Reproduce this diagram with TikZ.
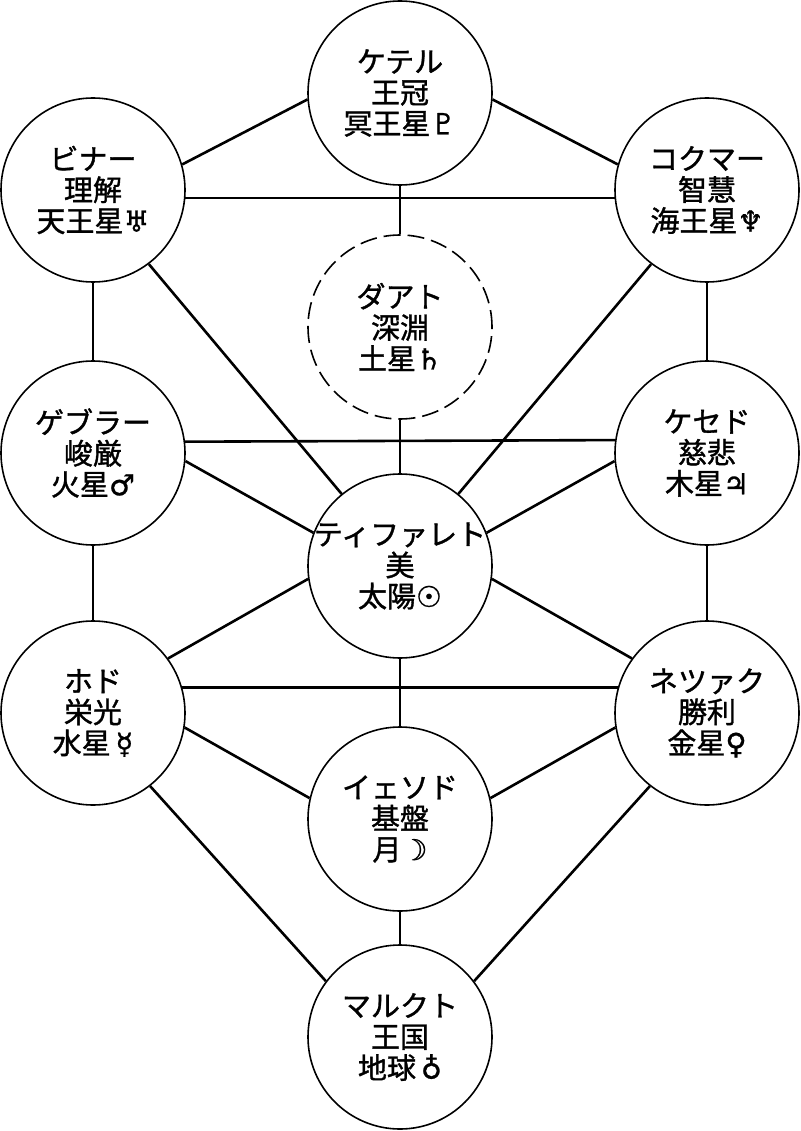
\documentclass[tikz,border=0pt]{standalone}
\usepackage{fontspec}
\setmainfont{Noto Sans CJK JP}[UprightFeatures={FakeBold=1.2}]
\newfontfamily\astrofont{DejaVu Sans}[UprightFeatures={FakeBold=0.8}]
\newcommand{\astro}[1]{{\astrofont #1}}

\begin{document}
\begin{tikzpicture}[x=1pt,y=-1pt,
        sefira/.style={draw, circle, line width=1.6pt, minimum size=184pt, inner sep=0pt},
        hidden/.style={sefira, dash pattern=on 17pt off 7pt},
        caption/.style={align=center, inner sep=0pt, font=\fontsize{29}{31}\selectfont},
        channel/.style={line width=2.6pt}]
                \useasboundingbox (0,0) rectangle (800,1131);
                \node[sefira] (keter) at (400,93) {};
                \node[sefira] (binah) at (93,190) {};
                \node[sefira] (chokmah) at (707,190) {};
                \node[hidden] (daat) at (400,327) {};
                \node[sefira] (gevurah) at (93,453) {};
                \node[sefira] (chesed) at (707,453) {};
                \node[sefira] (tiferet) at (400,566) {};
                \node[sefira] (hod) at (93,713) {};
                \node[sefira] (netzach) at (707,713) {};
                \node[sefira] (yesod) at (400,819) {};
                \node[sefira] (malkuth) at (400,1037) {};
                \node[caption] (keter-t) at (keter) {ケテル\\王冠\\冥王星\astro{♇}};
                \node[caption] (binah-t) at (binah) {ビナー\\理解\\天王星\astro{♅}};
                \node[caption] (chokmah-t) at (chokmah) {コクマー\\智慧\\海王星\astro{♆}};
                \node[caption] (daat-t) at (daat) {ダアト\\深淵\\土星\astro{♄}};
                \node[caption] (gevurah-t) at (gevurah) {ゲブラー\\峻厳\\火星\astro{♂}};
                \node[caption] (chesed-t) at (chesed) {ケセド\\慈悲\\木星\astro{♃}};
                \node[caption] (tiferet-t) at (tiferet) {ティファレト\\美\\太陽\astro{☉}};
                \node[caption] (hod-t) at (hod) {ホド\\栄光\\水星\,\astro{☿}};
                \node[caption] (netzach-t) at (netzach) {ネツァク\\勝利\\金星\astro{♀}};
                \node[caption] (yesod-t) at (yesod) {イェソド\\基盤\\月\astro{☽}};
                \node[caption] (malkuth-t) at (malkuth) {マルクト\\王国\\地球\,\astro{♁}};
                \draw[channel] (binah.16) -- (keter.184);
                \draw[channel] (keter.-4) -- (chokmah.164);
                \draw[channel] (binah.-5) -- (chokmah.185);
                \draw[channel] (keter.south) -- (daat.north);
                \draw[channel] (daat.south) -- (tiferet.north);
                \draw[channel] (binah.south) -- (gevurah.north);
                \draw[channel] (chokmah.south) -- (chesed.north);
                \draw[channel] (binah.-53) -- (tiferet.129);
                \draw[channel] (chokmah.233) -- (tiferet.51);
                \draw[channel] (gevurah.7.5) -- (chesed.172.5);
                \draw[channel] (gevurah.-5) -- (tiferet.159);
                \draw[channel] (chesed.185) -- (tiferet.21);
                \draw[channel] (gevurah.south) -- (hod.north);
                \draw[channel] (chesed.south) -- (netzach.north);
                \draw[channel] (hod.36) -- (tiferet.188);
                \draw[channel] (netzach.144) -- (tiferet.-8);
                \draw[channel] (tiferet.south) -- (yesod.north);
                \draw[channel] (hod.16) -- (netzach.164);
                \draw[channel] (hod.-9) -- (yesod.167);
                \draw[channel] (netzach.189) -- (yesod.13);
                \draw[channel] (hod.-52) -- (malkuth.143);
                \draw[channel] (netzach.232) -- (malkuth.37);
                \draw[channel] (yesod.south) -- (malkuth.north);
            \end{tikzpicture}
\end{document}
